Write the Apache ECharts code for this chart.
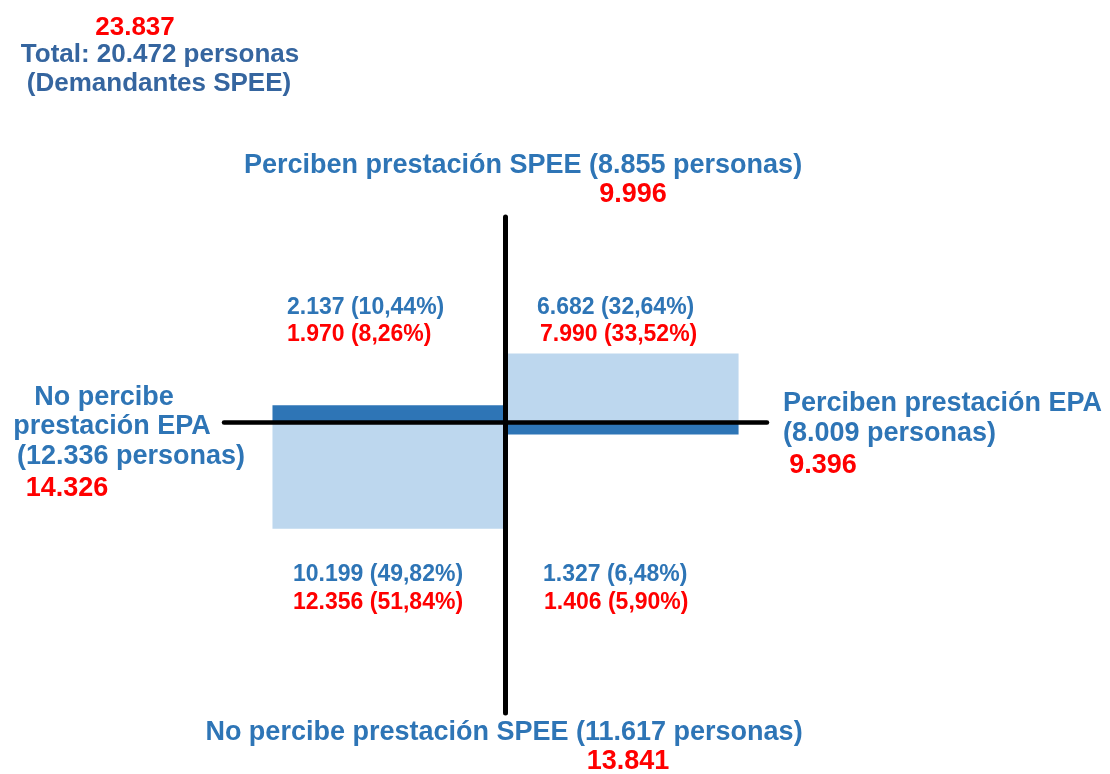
<!DOCTYPE html>
<html>
<head>
<meta charset="utf-8">
<script src="https://cdn.jsdelivr.net/npm/echarts@6/dist/echarts.min.js"></script>
<style>
  html, body { margin: 0; padding: 0; background: #fff; }
  #main { width: 1110px; height: 774px; }
</style>
</head>
<body>
<div id="main"></div>
<script>
// totales (azul = dato original, rojo = dato actualizado)
const totalBlue = 20472;
const totalRed = 23837;

// ejes: SPEE arriba/abajo, EPA izquierda/derecha
const axisNames = ['Perciben prestación SPEE', 'No percibe prestación SPEE', 'No percibe prestación EPA', 'Perciben prestación EPA'];
const axisBlue = [8855, 11617, 12336, 8009];
const axisRed = [9996, 13841, 14326, 9396];

// columnas EPA: [no percibe, percibe]
const epaGroups = ['No percibe EPA', 'Perciben EPA'];
// fila superior: perciben SPEE
const speeSiBlue = [2137, 6682];
const speeSiBluePct = ['10,44', '32,64'];
const speeSiRed = [1970, 7990];
const speeSiRedPct = ['8,26', '33,52'];
// fila inferior: no perciben SPEE
const speeNoBlue = [10199, 1327];
const speeNoBluePct = ['49,82', '6,48'];
const speeNoRed = [12356, 1406];
const speeNoRedPct = ['51,84', '5,90'];

const DARK = '#2e75b6';
const LIGHT = '#bdd7ee';
const BLUE = '#2e75b6';
const RED = '#ff0000';
const FONT = '"Liberation Sans", Arial, sans-serif';

function fmt(n) {
  return String(n).replace(/\B(?=(\d{3})+(?!\d))/g, '.');
}

function txt(text, x, y, color, size, align) {
  return {
    type: 'text', x: x, y: y + 2, z: 20,
    style: {
      text: text, fill: color, font: 'bold ' + size + 'px ' + FONT,
      textAlign: align || 'center', textVerticalAlign: 'middle'
    }
  };
}

// cada barra ocupa una columna: desde x = i-1 hasta x = i
function renderCell(colors) {
  return function (params, api) {
    const x0 = api.value(0);
    const v = api.value(1);
    const a = api.coord([x0, 0]);
    const b = api.coord([x0 + 1, v]);
    return {
      type: 'rect',
      shape: { x: a[0], y: Math.min(a[1], b[1]), width: b[0] - a[0], height: Math.abs(b[1] - a[1]) },
      style: { fill: colors[params.dataIndex] }
    };
  };
}

const chart = echarts.init(document.getElementById('main'));

const graphics = [
  // total arriba a la izquierda
  txt(fmt(totalRed), 135, 26, RED, 26),
  txt('Total: ' + fmt(totalBlue) + ' personas', 160, 53, '#35659f', 26),
  txt('(Demandantes SPEE)', 159, 82, '#35659f', 26),

  // eje superior
  txt(axisNames[0] + ' (' + fmt(axisBlue[0]) + ' personas)', 523, 164, BLUE, 27),
  txt(fmt(axisRed[0]), 633, 193, RED, 27),
  // eje inferior
  txt(axisNames[1] + ' (' + fmt(axisBlue[1]) + ' personas)', 504, 731, BLUE, 27),
  txt(fmt(axisRed[1]), 628, 760, RED, 27),
  // eje izquierdo
  txt('No percibe', 104, 396, BLUE, 27),
  txt('prestación EPA', 112, 425, BLUE, 27),
  txt('(' + fmt(axisBlue[2]) + ' personas)', 131, 455, BLUE, 27),
  txt(fmt(axisRed[2]), 67, 487, RED, 27),
  // eje derecho
  txt(axisNames[3], 783, 402, BLUE, 27, 'left'),
  txt('(' + fmt(axisBlue[3]) + ' personas)', 783, 432, BLUE, 27, 'left'),
  txt(fmt(axisRed[3]), 823, 464, RED, 27),

  // cuadrantes
  txt(fmt(speeSiBlue[0]) + ' (' + speeSiBluePct[0] + '%)', 287, 306, BLUE, 23, 'left'),
  txt(fmt(speeSiRed[0]) + ' (' + speeSiRedPct[0] + '%)', 287, 333, RED, 23, 'left'),
  txt(fmt(speeSiBlue[1]) + ' (' + speeSiBluePct[1] + '%)', 537, 306, BLUE, 23, 'left'),
  txt(fmt(speeSiRed[1]) + ' (' + speeSiRedPct[1] + '%)', 540, 333, RED, 23, 'left'),
  txt(fmt(speeNoBlue[0]) + ' (' + speeNoBluePct[0] + '%)', 293, 573, BLUE, 23, 'left'),
  txt(fmt(speeNoRed[0]) + ' (' + speeNoRedPct[0] + '%)', 293, 601, RED, 23, 'left'),
  txt(fmt(speeNoBlue[1]) + ' (' + speeNoBluePct[1] + '%)', 543, 573, BLUE, 23, 'left'),
  txt(fmt(speeNoRed[1]) + ' (' + speeNoRedPct[1] + '%)', 544, 601, RED, 23, 'left')
];

const option = {
  animation: false,
  backgroundColor: '#ffffff',
  grid: { left: 224, right: 343, top: 217, bottom: 61 },
  xAxis: {
    type: 'value', min: -1.208, max: 1.122, z: 10,
    axisLine: { show: true, onZero: true, lineStyle: { color: '#000', width: 4.5 } },
    axisTick: { show: false }, axisLabel: { show: false }, splitLine: { show: false }
  },
  yAxis: {
    type: 'value', min: -33750, max: 23840, z: 10,
    axisLine: { show: true, onZero: true, lineStyle: { color: '#000', width: 5 } },
    axisTick: { show: false }, axisLabel: { show: false }, splitLine: { show: false }
  },
  series: [
    {
      name: 'Perciben SPEE',
      type: 'custom',
      encode: { x: 0, y: 1 },
      renderItem: renderCell([DARK, LIGHT]),
      data: epaGroups.map((g, i) => [i - 1, speeSiRed[i]])
    },
    {
      name: 'No percibe SPEE',
      type: 'custom',
      encode: { x: 0, y: 1 },
      renderItem: renderCell([LIGHT, DARK]),
      data: epaGroups.map((g, i) => [i - 1, -speeNoRed[i]])
    }
  ],
  graphic: { elements: graphics }
};

chart.setOption(option);
</script>
</body>
</html>
